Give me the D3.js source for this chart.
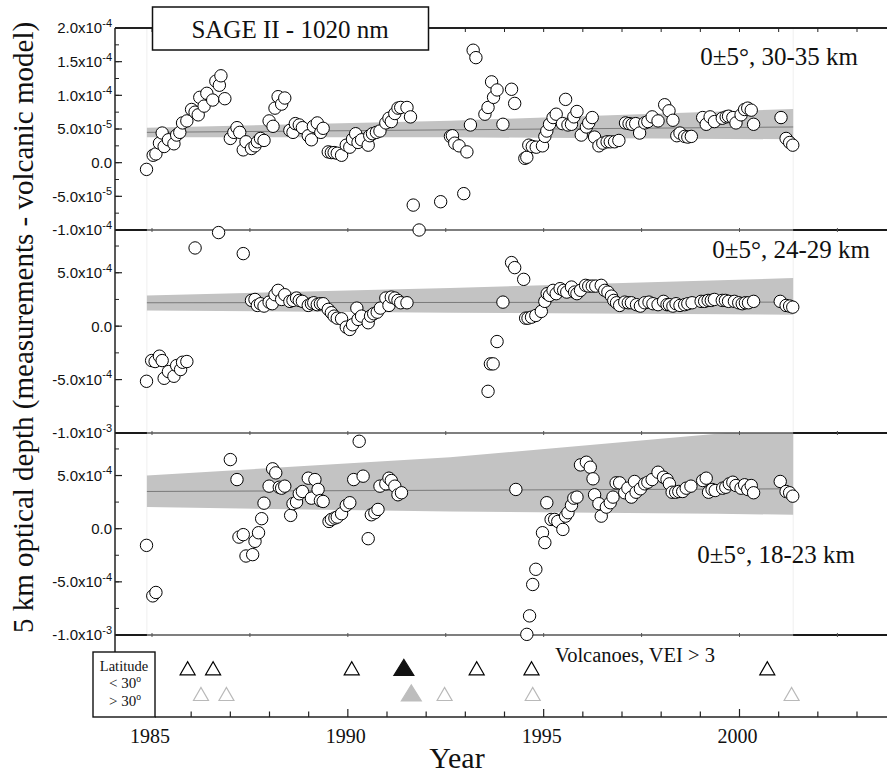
<!DOCTYPE html>
<meta charset="utf-8">
<head>
  <title>SAGE II 1020 nm residuals</title>
  <script src="https://d3js.org/d3.v7.min.js"></script>
  <style>
    body { margin: 0; background: #fff; }
    .tick-lab { font-family: "Liberation Sans", Arial, sans-serif; font-size: 15px; fill: #111; }
    .serif { font-family: "Liberation Serif", "Times New Roman", serif; fill: #111; }
  </style>
</head>
<body>
<div id="chart"></div>
<script>
// ---- data ----
// panel 1 (30-35 km), values in 1e-5
var p1 = [[1984.86,-1.0],[1985.03,1.1],[1985.10,1.3],[1985.19,2.9],[1985.26,4.4],[1985.31,2.4],[1985.42,3.4],[1985.56,2.8],[1985.63,4.1],[1985.71,4.5],[1985.78,5.9],[1985.89,6.2],
  [1986.01,7.9],[1986.10,7.5],[1986.18,7.1],[1986.22,9.7],[1986.33,8.4],[1986.40,10.3],[1986.55,9.3],[1986.63,12.1],[1986.72,11.5],[1986.76,12.9],[1986.86,9.5],
  [1987.00,3.6],[1987.09,4.5],[1987.17,5.2],[1987.24,4.5],[1987.33,1.9],[1987.40,3.1],[1987.54,2.1],[1987.63,2.5],[1987.69,3.1],[1987.77,3.6],[1987.86,3.3],
  [1987.99,6.2],[1988.09,5.4],[1988.14,8.1],[1988.22,9.8],[1988.31,8.7],[1988.39,9.6],[1988.52,4.8],[1988.60,4.5],[1988.66,5.8],[1988.76,5.6],[1988.84,5.2],
  [1988.99,4.0],[1989.07,3.4],[1989.12,5.4],[1989.22,5.9],[1989.31,4.5],[1989.37,5.1],[1989.50,1.6],[1989.58,1.5],[1989.65,1.5],[1989.73,1.4],[1989.84,1.1],
  [1989.96,2.6],[1990.05,2.3],[1990.12,3.5],[1990.20,4.3],[1990.26,3.0],[1990.35,3.4],[1990.52,2.6],[1990.56,4.0],[1990.63,4.3],[1990.73,4.5],[1990.82,4.7],
  [1990.97,5.9],[1991.05,6.6],[1991.11,6.1],[1991.20,7.3],[1991.28,8.1],[1991.35,8.2],[1991.51,8.2],[1991.60,6.8],[1991.67,-6.3],[1991.82,-10.0],
  [1992.37,-5.8],[1992.62,3.9],[1992.67,4.0],[1992.73,2.9],[1992.84,2.5],[1992.96,-4.6],[1993.04,1.6],[1993.13,5.6],[1993.20,16.7],[1993.27,15.6],
  [1993.50,7.2],[1993.58,8.2],[1993.67,12.0],[1993.72,9.7],[1993.81,10.8],[1993.96,5.7],[1994.18,10.9],[1994.26,8.8],[1994.52,0.65],[1994.57,0.8],
  [1994.62,2.6],[1994.71,2.4],[1994.81,2.3],[1994.97,2.5],[1995.03,3.9],[1995.08,4.7],[1995.15,5.7],[1995.24,6.7],[1995.32,7.2],[1995.48,5.8],[1995.56,9.4],
  [1995.62,5.6],[1995.71,5.7],[1995.77,6.8],[1995.85,7.6],[1995.96,4.1],[1996.09,5.3],[1996.15,5.9],[1996.24,6.7],[1996.30,3.8],[1996.41,2.5],[1996.51,2.9],
  [1996.62,3.1],[1996.70,3.1],[1996.81,3.1],[1996.92,3.3],[1997.09,5.9],[1997.18,5.8],[1997.26,5.7],[1997.35,5.8],[1997.45,4.4],[1997.58,5.9],[1997.66,6.1],
  [1997.77,6.8],[1997.92,6.2],[1998.09,8.6],[1998.20,7.7],[1998.30,6.3],[1998.40,4.0],[1998.48,4.4],[1998.60,3.9],[1998.68,3.8],[1998.77,3.9],
  [1999.06,6.7],[1999.15,5.7],[1999.25,6.8],[1999.36,6.1],[1999.56,6.6],[1999.66,6.8],[1999.72,6.9],[1999.83,6.7],[1999.91,5.9],[2000.04,7.1],[2000.13,7.9],
  [2000.21,8.1],[2000.30,7.8],[2000.36,5.7],[2001.06,6.7],[2001.19,3.6],[2001.28,3.0],[2001.36,2.6]];

// panel 2 (24-29 km), values in 1e-4
var p2 = [[1984.86,-5.16],[1984.99,-3.22],[1985.08,-3.31],[1985.19,-2.81],[1985.26,-3.22],[1985.31,-4.88],[1985.42,-4.25],[1985.56,-4.69],[1985.63,-3.69],
  [1985.73,-4.06],[1985.78,-3.38],[1985.89,-3.31],[1986.10,7.32],[1986.70,8.76],[1987.33,6.79],[1987.54,2.41],[1987.63,2.50],[1987.69,1.94],[1987.77,2.10],
  [1987.86,1.88],[1987.99,2.25],[1988.07,2.10],[1988.14,2.94],[1988.22,3.35],[1988.31,2.50],[1988.39,2.94],[1988.52,2.32],[1988.60,2.41],[1988.69,2.63],
  [1988.76,2.41],[1988.84,2.32],[1988.99,1.94],[1989.07,2.10],[1989.13,2.19],[1989.22,2.01],[1989.30,2.10],[1989.37,2.10],[1989.50,1.57],[1989.58,1.26],
  [1989.65,0.94],[1989.73,0.75],[1989.84,0.69],[1989.96,-0.09],[1990.05,-0.31],[1990.12,0.13],[1990.23,1.69],[1990.26,0.63],[1990.35,0.94],[1990.52,0.32],
  [1990.58,0.94],[1990.66,1.16],[1990.75,1.31],[1990.83,1.69],[1990.97,2.63],[1991.05,1.94],[1991.11,2.72],[1991.20,2.63],[1991.28,2.41],[1991.35,2.19],
  [1991.51,2.19],[1993.58,-6.10],[1993.64,-3.53],[1993.71,-3.53],[1993.81,-1.44],[1993.96,2.25],[1994.18,5.95],[1994.26,5.48],[1994.49,4.38],[1994.54,0.75],
  [1994.60,0.75],[1994.69,0.84],[1994.80,1.00],[1994.94,1.38],[1995.03,2.32],[1995.09,3.04],[1995.15,2.88],[1995.24,3.35],[1995.32,3.04],[1995.42,3.51],
  [1995.51,3.35],[1995.59,3.19],[1995.71,3.66],[1995.79,3.19],[1995.85,3.04],[1995.94,3.35],[1996.07,3.82],[1996.15,3.75],[1996.24,3.75],[1996.33,3.75],
  [1996.47,3.82],[1996.56,3.35],[1996.64,3.19],[1996.73,2.81],[1996.79,2.41],[1996.86,2.19],[1996.94,1.94],[1997.07,2.25],[1997.16,2.19],[1997.24,2.19],
  [1997.37,2.01],[1997.47,1.88],[1997.58,2.19],[1997.69,2.25],[1997.79,2.10],[1997.92,2.01],[1998.06,2.32],[1998.15,2.01],[1998.21,2.01],[1998.30,1.88],
  [1998.38,2.10],[1998.48,1.94],[1998.60,2.01],[1998.68,2.10],[1998.79,2.19],[1999.02,2.32],[1999.11,2.32],[1999.20,2.41],[1999.28,2.41],[1999.36,2.50],
  [1999.56,2.41],[1999.64,2.41],[1999.72,2.32],[1999.87,2.32],[1999.98,2.19],[2000.07,2.10],[2000.15,2.19],[2000.23,2.19],[2000.36,2.32],[2001.04,2.32],
  [2001.19,1.94],[2001.28,1.88],[2001.36,1.78]];

// panel 3 (18-23 km), values in 1e-4
var p3 = [[1984.86,-1.57],[1985.02,-6.32],[1985.10,-6.0],[1987.00,6.5],[1987.17,4.62],[1987.22,-0.79],[1987.33,-0.56],[1987.40,-2.57],[1987.57,-2.44],
  [1987.63,-1.19],[1987.72,-0.38],[1987.80,0.94],[1987.86,2.40],[1987.99,4.0],[1988.08,5.63],[1988.16,5.25],[1988.25,3.90],[1988.31,3.81],[1988.39,4.0],
  [1988.54,1.25],[1988.60,2.35],[1988.69,2.50],[1988.76,3.28],[1988.84,3.50],[1988.99,4.75],[1989.07,2.87],[1989.16,4.62],[1989.24,3.69],[1989.30,2.65],
  [1989.37,2.56],[1989.52,0.68],[1989.58,0.87],[1989.67,1.0],[1989.73,1.09],[1989.84,1.41],[1989.96,2.19],[1990.05,2.44],[1990.15,4.62],[1990.29,8.22],
  [1990.39,4.94],[1990.52,-0.94],[1990.60,1.31],[1990.69,1.50],[1990.77,1.81],[1990.82,4.0],[1990.97,4.22],[1991.05,4.75],[1991.11,4.53],[1991.20,4.0],
  [1991.28,3.19],[1991.37,3.38],[1994.29,3.69],[1994.57,-9.94],[1994.64,-8.20],[1994.72,-5.25],[1994.80,-3.82],[1994.97,-0.38],[1995.03,-1.31],[1995.08,2.44],
  [1995.19,0.87],[1995.28,0.87],[1995.36,0.68],[1995.49,-0.07],[1995.56,1.18],[1995.62,1.50],[1995.71,2.19],[1995.77,2.87],[1995.85,2.97],[1995.94,6.0],
  [1996.09,6.25],[1996.19,5.78],[1996.26,4.69],[1996.30,3.19],[1996.41,2.35],[1996.47,1.18],[1996.60,2.03],[1996.70,2.44],[1996.77,2.97],[1996.85,4.31],
  [1996.94,4.31],[1997.07,3.38],[1997.15,3.81],[1997.24,2.97],[1997.32,4.44],[1997.36,3.43],[1997.47,3.75],[1997.58,4.22],[1997.66,4.37],[1997.77,4.62],
  [1997.92,5.31],[1998.06,4.84],[1998.15,4.62],[1998.21,4.22],[1998.28,3.43],[1998.37,3.43],[1998.45,3.50],[1998.55,3.50],[1998.64,3.81],[1998.76,4.0],
  [1999.06,4.53],[1999.15,4.75],[1999.21,3.43],[1999.30,3.69],[1999.38,3.59],[1999.57,3.81],[1999.65,3.90],[1999.74,4.22],[1999.83,4.37],[1999.91,4.06],
  [2000.04,3.81],[2000.13,4.13],[2000.21,3.69],[2000.30,4.06],[2000.36,3.38],[2001.04,4.44],[2001.19,3.50],[2001.28,3.38],[2001.36,3.06]];

// trend confidence bands [year, lower, upper] and trend lines [year, value]
var band1 = [[1984.87,3.77,5.2],[1992.61,3.77,6.24],[2001.37,3.47,7.97]];
var trend1 = [[1984.87,4.5],[2001.37,5.3]];
var band2 = [[1984.87,1.47,2.88],[1992.61,1.26,3.57],[2001.37,1.07,4.5]];
var trend2 = [[1984.87,2.19],[2001.37,2.25]];
var band3 = [[1984.87,2.03,5.0],[1992.61,1.62,6.72],[1999.43,1.40,8.93],[2001.37,1.31,9.5]];
var trend3 = [[1984.87,3.5],[2001.37,3.75]];

// volcanoes (VEI > 3)
var volcLow = [1985.91, 1986.56, 1990.10, 1993.29, 1994.69, 2000.71];
var volcLowBig = [1991.43];
var volcHigh = [1986.25, 1986.90, 1992.47, 1994.72, 2001.33];
var volcHighBig = [1991.62];

var yearLabels = [1985, 1990, 1995, 2000];

// ---- layout ----
var W = 887, H = 776;
var left = 115, right = 887;
var dataStart = 1984.87, dataEnd = 2001.37;

var svg = d3.select("#chart").append("svg").attr("width", W).attr("height", H);

var x = d3.scaleLinear().domain([1985, 2000]).range([152, 739.5]);

var panels = [
  {top: 28, bottom: 230, domain: [-1e-4, 2e-4], unit: 1e-5, pts: p1, band: band1, trend: trend1,
   major: [-1e-4, -5e-5, 0, 5e-5, 1e-4, 1.5e-4, 2e-4], minorStep: 2.5e-5,
   label: "0±5°, 30-35 km", lx: 858, ly: 65},
  {top: 230, bottom: 433, domain: [-1e-3, 9e-4], unit: 1e-4, pts: p2, band: band2, trend: trend2,
   major: [-1e-3, -5e-4, 0, 5e-4], minorStep: 2.5e-4,
   label: "0±5°, 24-29 km", lx: 870, ly: 258},
  {top: 433, bottom: 635, domain: [-1e-3, 9e-4], unit: 1e-4, pts: p3, band: band3, trend: trend3,
   major: [-1e-3, -5e-4, 0, 5e-4], minorStep: 2.5e-4,
   label: "0±5°, 18-23 km", lx: 855, ly: 563}
];

function sci(v) {
  if (Math.abs(v) < 1e-12) return {m: "0.0"};
  var e = Math.floor(Math.log10(Math.abs(v)) + 1e-9);
  var m = v / Math.pow(10, e);
  return {m: m.toFixed(1) + "x10", e: String(e)};
}

var defs = svg.append("defs");
var gBack = svg.append("g"), gFrame = svg.append("g"), gMarks = svg.append("g");

panels.forEach(function(p, i) {
  var y = d3.scaleLinear().domain(p.domain).range([p.bottom, p.top]);
  p.y = y;
  defs.append("clipPath").attr("id", "clip" + i).append("rect")
    .attr("x", left).attr("y", p.top).attr("width", right - left).attr("height", p.bottom - p.top);

  // faint plot-region edges
  [dataStart, dataEnd].forEach(function(yr) {
    gBack.append("line").attr("x1", x(yr)).attr("x2", x(yr)).attr("y1", p.top).attr("y2", p.bottom)
      .attr("stroke", "#efefef").attr("stroke-width", 1);
  });

  var area = d3.area().x(function(d) { return x(d[0]); })
    .y0(function(d) { return y(d[1] * p.unit); })
    .y1(function(d) { return y(d[2] * p.unit); });
  gBack.append("path").attr("d", area(p.band)).attr("fill", "#c3c3c3")
    .attr("clip-path", "url(#clip" + i + ")");

  var line = d3.line().x(function(d) { return x(d[0]); }).y(function(d) { return y(d[1] * p.unit); });
  gBack.append("path").attr("d", line(p.trend)).attr("fill", "none").attr("stroke", "#7a7a7a").attr("stroke-width", 1);

  // y ticks (pointing inward)
  var minors = d3.range(p.domain[0], p.domain[1] + 1e-12, p.minorStep);
  gFrame.selectAll(null).data(minors).enter().append("line")
    .attr("x1", left).attr("x2", left + 4).attr("y1", function(d) { return y(d); }).attr("y2", function(d) { return y(d); })
    .attr("stroke", "#222").attr("stroke-width", 1);
  gFrame.selectAll(null).data(p.major).enter().append("line")
    .attr("x1", left).attr("x2", left + 7).attr("y1", function(d) { return y(d); }).attr("y2", function(d) { return y(d); })
    .attr("stroke", "#222").attr("stroke-width", 1.2);

  p.major.forEach(function(v) {
    var f = sci(v);
    var t = gFrame.append("text").attr("class", "tick-lab").attr("text-anchor", "end")
      .attr("x", left - 3).attr("y", y(v)).attr("dy", "0.36em");
    t.append("tspan").text(f.m);
    if (f.e) t.append("tspan").attr("dy", -6.5).attr("font-size", 11).text(f.e);
  });

  gFrame.append("text").attr("class", "serif").attr("font-size", 25).attr("text-anchor", "end")
    .attr("x", p.lx).attr("y", p.ly).text(p.label);
});

// frame lines
var bounds = [28, 230, 433, 635];
bounds.forEach(function(b, i) {
  gFrame.append("line").attr("x1", left).attr("x2", right).attr("y1", b).attr("y2", b)
    .attr("stroke", i === 0 ? "#222" : "#555").attr("stroke-width", i === 0 ? 1.8 : 1.3);
  if (i > 0) {
    [[left, x(dataStart)], [x(dataEnd), right]].forEach(function(s) {
      gFrame.append("line").attr("x1", s[0]).attr("x2", s[1]).attr("y1", b).attr("y2", b)
        .attr("stroke", "#1a1a1a").attr("stroke-width", 2);
    });
    gFrame.selectAll(null).data(d3.range(1985, 2004, 2.5)).enter().append("line")
      .attr("x1", function(d) { return x(d); }).attr("x2", function(d) { return x(d); })
      .attr("y1", b - 2).attr("y2", b + 2).attr("stroke", "#555").attr("stroke-width", 1);
  }
});
gFrame.append("line").attr("x1", left).attr("x2", left).attr("y1", 28).attr("y2", 652)
  .attr("stroke", "#222").attr("stroke-width", 1.5);
// top axis yearly ticks
gFrame.selectAll(null).data(d3.range(1985, 2004)).enter().append("line")
  .attr("x1", function(d) { return x(d); }).attr("x2", function(d) { return x(d); })
  .attr("y1", 28).attr("y2", 32).attr("stroke", "#222").attr("stroke-width", 1);

// points
panels.forEach(function(p) {
  gMarks.selectAll(null).data(p.pts).enter().append("circle")
    .attr("cx", function(d) { return x(d[0]); })
    .attr("cy", function(d) { return p.y(d[1] * p.unit); })
    .attr("r", 6.2).attr("fill", "#fff").attr("stroke", "#000").attr("stroke-width", 1);
});

// title box
gMarks.append("rect").attr("x", 152.5).attr("y", 7).attr("width", 276).attr("height", 43)
  .attr("fill", "#fff").attr("stroke", "#111").attr("stroke-width", 1.5);
gMarks.append("text").attr("class", "serif").attr("font-size", 25).attr("text-anchor", "middle")
  .attr("x", 290).attr("y", 37.5).text("SAGE II - 1020 nm");

// volcano strip
var axisY = 717;
gFrame.append("line").attr("x1", 155).attr("x2", right).attr("y1", axisY).attr("y2", axisY)
  .attr("stroke", "#222").attr("stroke-width", 1.5);
gFrame.selectAll(null).data(d3.range(1985, 2004)).enter().append("line")
  .attr("x1", function(d) { return x(d); }).attr("x2", function(d) { return x(d); })
  .attr("y1", axisY).attr("y2", function(d) { return d % 5 === 0 ? axisY - 8 : axisY - 5.5; })
  .attr("stroke", "#222").attr("stroke-width", 1.2);

gFrame.selectAll(null).data(yearLabels).enter().append("text").attr("class", "serif")
  .attr("font-size", 20).attr("text-anchor", "middle")
  .attr("x", function(d) { return x(d) - 2; }).attr("y", 743).text(function(d) { return d; });

gFrame.append("text").attr("class", "serif").attr("font-size", 30).attr("text-anchor", "middle")
  .attr("x", 457).attr("y", 768).text("Year");

gFrame.append("text").attr("class", "serif").attr("font-size", 20.5)
  .attr("x", 555).attr("y", 662).text("Volcanoes, VEI > 3");

function tri(cx, cy, w, h) {
  return "M" + (cx - w / 2) + "," + (cy + h / 2) + "L" + cx + "," + (cy - h / 2) + "L" + (cx + w / 2) + "," + (cy + h / 2) + "Z";
}
var tris = [
  {data: volcLow, cy: 668.3, w: 15, h: 13, fill: "none", stroke: "#000"},
  {data: volcHigh, cy: 694, w: 15, h: 13, fill: "none", stroke: "#b9b9b9"},
  {data: volcLowBig, cy: 667.5, w: 20, h: 16, fill: "#111", stroke: "#111"},
  {data: volcHighBig, cy: 693, w: 20, h: 16, fill: "#bdbdbd", stroke: "#bdbdbd"}
];
tris.forEach(function(t) {
  gMarks.selectAll(null).data(t.data).enter().append("path")
    .attr("d", function(d) { return tri(x(d), t.cy, t.w, t.h); })
    .attr("fill", t.fill).attr("stroke", t.stroke).attr("stroke-width", 1.2);
});

// latitude legend box
gMarks.append("rect").attr("x", 93).attr("y", 652).attr("width", 62).attr("height", 65)
  .attr("fill", "#fff").attr("stroke", "#111").attr("stroke-width", 1.4);
gMarks.append("text").attr("class", "serif").attr("font-size", 14.5).attr("text-anchor", "middle")
  .attr("x", 124).attr("y", 670.5).text("Latitude");
[["< 30", 688], ["> 30", 706]].forEach(function(r) {
  var t = gMarks.append("text").attr("class", "serif").attr("font-size", 15).attr("text-anchor", "middle")
    .attr("x", 125).attr("y", r[1]);
  t.append("tspan").text(r[0]);
  t.append("tspan").attr("dy", -6).attr("font-size", 9.5).text("o");
});

// y-axis title
gFrame.append("text").attr("class", "serif").attr("font-size", 29).attr("text-anchor", "middle")
  .attr("transform", "translate(33,327.5) rotate(-90)")
  .text("5 km optical depth (measurements - volcanic model)");
</script>
</body>
</html>
